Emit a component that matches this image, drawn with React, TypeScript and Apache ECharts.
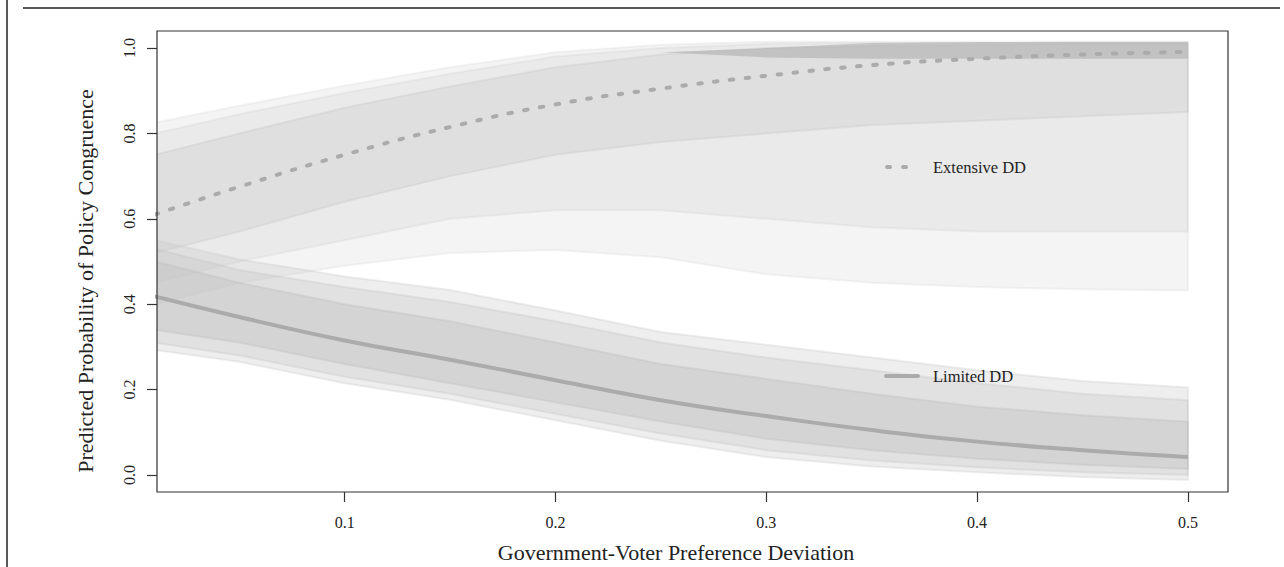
import React, { useEffect, useRef } from "react";
import * as echarts from "echarts";

// x positions (Government-Voter Preference Deviation)
const xs = [0.01, 0.05, 0.1, 0.15, 0.2, 0.25, 0.3, 0.35, 0.4, 0.45, 0.5];

// mean predicted probabilities
const extensiveMean = [0.61, 0.675, 0.75, 0.815, 0.868, 0.905, 0.935, 0.96, 0.975, 0.985, 0.991];
const limitedMean = [0.418, 0.37, 0.315, 0.27, 0.222, 0.175, 0.138, 0.105, 0.078, 0.058, 0.042];

// simulation envelopes (Extensive DD), from widest to densest
const extOuterLow = [0.4, 0.45, 0.49, 0.52, 0.527, 0.51, 0.47, 0.45, 0.44, 0.435, 0.432];
const extOuterHigh = [0.825, 0.865, 0.912, 0.955, 0.99, 1.008, 1.015, 1.015, 1.015, 1.015, 1.015];
const extMidLow = [0.45, 0.5, 0.55, 0.6, 0.62, 0.62, 0.6, 0.58, 0.57, 0.57, 0.57];
const extMidHigh = [0.8, 0.845, 0.895, 0.94, 0.98, 1.0, 1.01, 1.012, 1.012, 1.012, 1.012];
const extInnerLow = [0.52, 0.57, 0.64, 0.7, 0.75, 0.78, 0.8, 0.82, 0.83, 0.84, 0.85];
const extInnerHigh = [0.75, 0.8, 0.86, 0.91, 0.955, 0.985, 1.0, 1.005, 1.008, 1.01, 1.01];
const extCoreLow = [0.99, 0.99, 0.99, 0.99, 0.99, 0.99, 0.978, 0.975, 0.975, 0.975, 0.975];
const extCoreHigh = [0.99, 0.99, 0.99, 0.99, 0.99, 0.99, 1.0, 1.012, 1.014, 1.015, 1.015];

// simulation envelopes (Limited DD)
const limOuterLow = [0.293, 0.265, 0.215, 0.176, 0.128, 0.08, 0.042, 0.02, 0.006, -0.005, -0.012];
const limOuterHigh = [0.55, 0.505, 0.465, 0.433, 0.385, 0.335, 0.305, 0.275, 0.245, 0.22, 0.205];
const limMidLow = [0.31, 0.28, 0.23, 0.19, 0.143, 0.097, 0.058, 0.034, 0.018, 0.006, 0.0];
const limMidHigh = [0.53, 0.48, 0.44, 0.405, 0.36, 0.31, 0.275, 0.245, 0.215, 0.19, 0.175];
const limInnerLow = [0.34, 0.31, 0.26, 0.215, 0.17, 0.125, 0.085, 0.058, 0.038, 0.024, 0.014];
const limInnerHigh = [0.5, 0.45, 0.4, 0.36, 0.31, 0.26, 0.225, 0.19, 0.16, 0.14, 0.125];

const xTicks = [0.1, 0.2, 0.3, 0.4, 0.5];
const yTicks = [0, 0.2, 0.4, 0.6, 0.8, 1.0];

const FONT = "'Liberation Serif', 'DejaVu Serif', serif";

function band(id: string, low: number[], high: number[], color: string, soft = true): any {
  return {
    type: "custom",
    name: id,
    data: xs.map((x, i) => [x, low[i], high[i]]),
    encode: { x: 0, y: [1, 2] },
    clip: true,
    silent: true,
    z: 1,
    renderItem: (params: any, api: any) => {
      if (params.dataIndex !== 0) return null;
      const pts: number[][] = [];
      for (let j = 0; j < xs.length; j++) pts.push(api.coord([xs[j], high[j]]));
      for (let j = xs.length - 1; j >= 0; j--) pts.push(api.coord([xs[j], low[j]]));
      return {
        type: "polygon",
        shape: { points: pts },
        style: soft
          ? { fill: color, stroke: color, lineWidth: 2 }
          : { fill: color, stroke: null },
      };
    },
  };
}

export default function App() {
  const ref = useRef<HTMLDivElement>(null);
  useEffect(() => {
    if (!ref.current) return;
    const chart = echarts.init(ref.current, null, { renderer: "svg" });
    const meanColor = "#ababab";
    chart.setOption({
      animation: false,
      backgroundColor: "#ffffff",
      grid: {
        left: 157,
        top: 31,
        width: 1071,
        height: 461,
        show: true,
        borderColor: "#333",
        borderWidth: 1.2,
        backgroundColor: "transparent",
        z: 5,
      },
      xAxis: {
        type: "value",
        min: 0.011,
        max: 0.519,
        axisLine: { show: false, onZero: false },
        splitLine: { show: false },
        axisTick: {
          show: true,
          customValues: xTicks,
          length: 10,
          lineStyle: { color: "#333", width: 1.2 },
        },
        axisLabel: {
          customValues: xTicks,
          formatter: (v: number) => v.toFixed(1),
          fontFamily: FONT,
          fontSize: 16,
          color: "#222",
          margin: 22,
        },
      },
      yAxis: {
        type: "value",
        min: -0.04,
        max: 1.04,
        axisLine: { show: false, onZero: false },
        splitLine: { show: false },
        axisTick: {
          show: true,
          customValues: yTicks,
          length: 10,
          lineStyle: { color: "#333", width: 1.2 },
        },
        axisLabel: {
          customValues: yTicks,
          rotate: 90,
          formatter: (v: number) => v.toFixed(1),
          fontFamily: FONT,
          fontSize: 16,
          color: "#222",
          margin: 20,
        },
      },
      series: [
        band("extOuter", extOuterLow, extOuterHigh, "rgba(205,205,205,0.22)"),
        band("extMid", extMidLow, extMidHigh, "rgba(200,200,200,0.22)"),
        band("extInner", extInnerLow, extInnerHigh, "rgba(195,195,195,0.28)"),
        band("extCore", extCoreLow, extCoreHigh, "rgba(175,175,175,0.6)", false),
        band("limOuter", limOuterLow, limOuterHigh, "rgba(200,200,200,0.3)"),
        band("limMid", limMidLow, limMidHigh, "rgba(195,195,195,0.3)"),
        band("limInner", limInnerLow, limInnerHigh, "rgba(188,188,188,0.35)"),
        {
          type: "line",
          name: "Extensive DD",
          data: xs.map((x, i) => [x, extensiveMean[i]]),
          smooth: true,
          symbol: "none",
          lineStyle: { color: meanColor, width: 4, type: [3.5, 12.5], cap: "round" },
          z: 3,
          silent: true,
        },
        {
          type: "line",
          name: "Limited DD",
          data: xs.map((x, i) => [x, limitedMean[i]]),
          smooth: true,
          symbol: "none",
          lineStyle: { color: meanColor, width: 4 },
          z: 3,
          silent: true,
        },
      ],
      graphic: [
        {
          type: "line",
          shape: { x1: 7, y1: 0, x2: 7, y2: 567 },
          style: { stroke: "#222", lineWidth: 1.5 },
        },
        {
          type: "line",
          shape: { x1: 23, y1: 8, x2: 1280, y2: 8 },
          style: { stroke: "#222", lineWidth: 1.5 },
        },
        {
          type: "text",
          x: 85,
          y: 281,
          rotation: Math.PI / 2,
          style: {
            text: "Predicted Probability of Policy Congruence",
            fontFamily: FONT,
            fontSize: 22,
            fill: "#222",
            textAlign: "center",
            textVerticalAlign: "middle",
          },
        },
        {
          type: "text",
          x: 676,
          y: 552,
          style: {
            text: "Government-Voter Preference Deviation",
            fontFamily: FONT,
            fontSize: 22,
            fill: "#222",
            textAlign: "center",
            textVerticalAlign: "middle",
          },
        },
        {
          type: "line",
          shape: { x1: 887, y1: 167, x2: 912, y2: 167 },
          style: { stroke: meanColor, lineWidth: 4, lineDash: [3, 13], lineCap: "round" },
          z: 10,
        },
        {
          type: "text",
          x: 933,
          y: 167,
          style: {
            text: "Extensive DD",
            fontFamily: FONT,
            fontSize: 16.5,
            fill: "#222",
            textAlign: "left",
            textVerticalAlign: "middle",
          },
          z: 10,
        },
        {
          type: "line",
          shape: { x1: 886, y1: 376, x2: 918, y2: 376 },
          style: { stroke: meanColor, lineWidth: 4, lineCap: "round" },
          z: 10,
        },
        {
          type: "text",
          x: 933,
          y: 376,
          style: {
            text: "Limited DD",
            fontFamily: FONT,
            fontSize: 16.5,
            fill: "#222",
            textAlign: "left",
            textVerticalAlign: "middle",
          },
          z: 10,
        },
      ],
    });
    return () => chart.dispose();
  }, []);
  return (
    <div
      ref={ref}
      style={{ position: "fixed", left: 0, top: 0, width: 1284, height: 567 }}
    />
  );
}
